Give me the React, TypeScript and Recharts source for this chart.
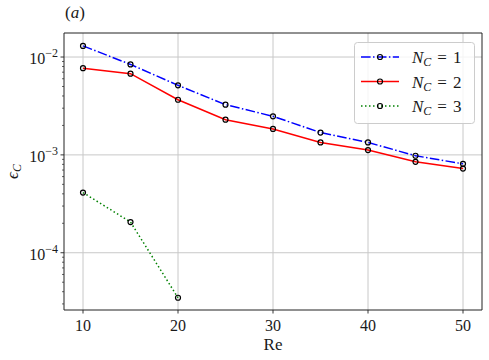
import React from 'react';
import {
  CartesianGrid,
  Legend,
  Line,
  LineChart,
  ReferenceArea,
  XAxis,
  YAxis,
} from 'recharts';

// Reynolds numbers along the x axis.
const reValues = [10, 15, 20, 25, 30, 35, 40, 45, 50];

// epsilon_C per number of components.
const nc1 = [1.3e-2, 8.4e-3, 5.14e-3, 3.26e-3, 2.48e-3, 1.69e-3, 1.34e-3, 9.8e-4, 8.1e-4];
const nc2 = [7.7e-3, 6.76e-3, 3.66e-3, 2.29e-3, 1.84e-3, 1.34e-3, 1.12e-3, 8.5e-4, 7.25e-4];
const nc3 = [4.12e-4, 2.06e-4, 3.47e-5];

const xTicks = [10, 20, 30, 40, 50];
const yMajorTicks = [1e-4, 1e-3, 1e-2];
const yMajorLabels = ['−4', '−3', '−2'];
const yMinorTicks = [
  3e-5, 4e-5, 5e-5, 6e-5, 7e-5, 8e-5, 9e-5,
  2e-4, 3e-4, 4e-4, 5e-4, 6e-4, 7e-4, 8e-4, 9e-4,
  2e-3, 3e-3, 4e-3, 5e-3, 6e-3, 7e-3, 8e-3, 9e-3,
];
const legendLabels = ['1', '2', '3'];

const X_DOMAIN: [number, number] = [8, 52];
const Y_DOMAIN: [number, number] = [2.6e-5, 1.76e-2];

const FONT = 'Liberation Serif';
const GRID = '#c8c8c8';
const SPINE = '#222';
const TEXT = '#1a1a1a';

const SERIES = [
  { key: 'nc1', color: '#0000ff', dash: '9.6 2.4 1.5 2.4' },
  { key: 'nc2', color: '#ff0000', dash: undefined },
  { key: 'nc3', color: '#008000', dash: '1.5 2.5' },
];

const data = reValues.map((re, i) => ({
  re,
  nc1: nc1[i],
  nc2: nc2[i],
  nc3: i < nc3.length ? nc3[i] : null,
}));

function XTick(props: any) {
  const { x, y, payload } = props;
  return (
    <g>
      <line x1={x} x2={x} y1={y} y2={y + 3.5} stroke={SPINE} strokeWidth={0.9} />
      <text x={x} y={y + 20.5} textAnchor="middle" style={{ fontFamily: FONT, fontSize: 16 }} fill={TEXT}>
        {payload.value}
      </text>
    </g>
  );
}

function YTick(props: any) {
  const { x, y, payload } = props;
  const idx = yMajorTicks.indexOf(payload.value);
  const major = idx >= 0;
  return (
    <g>
      <line
        x1={x - (major ? 3.5 : 2)}
        x2={x}
        y1={y}
        y2={y}
        stroke={SPINE}
        strokeWidth={major ? 0.9 : 0.7}
      />
      {major && (
        <text x={x - 6} y={y + 7} textAnchor="end" style={{ fontFamily: FONT, fontSize: 16 }} fill={TEXT}>
          10
          <tspan dy={-7} style={{ fontSize: 12 }}>
            {yMajorLabels[idx]}
          </tspan>
        </text>
      )}
    </g>
  );
}

function OpenDot(props: any) {
  const { cx, cy } = props;
  if (cx == null || cy == null || Number.isNaN(cy)) return null;
  return <circle cx={cx} cy={cy} r={2.5} fill="none" stroke="#000" strokeWidth={1.2} />;
}

function LegendBox() {
  const rows = [15, 39.5, 64];
  return (
    <svg width={121} height={82} style={{ display: 'block', overflow: 'visible' }}>
      <rect
        x={0.5}
        y={0.5}
        width={120}
        height={81}
        rx={3}
        fill="rgba(255,255,255,0.8)"
        stroke="#cccccc"
        strokeWidth={1}
      />
      {SERIES.map((s, i) => (
        <g key={s.key}>
          <line
            x1={7}
            x2={45}
            y1={rows[i]}
            y2={rows[i]}
            stroke={s.color}
            strokeWidth={1.5}
            strokeDasharray={s.dash}
          />
          <circle cx={26} cy={rows[i]} r={2.5} fill="none" stroke="#000" strokeWidth={1.2} />
          <text x={58} y={rows[i] + 6} style={{ fontFamily: FONT, fontSize: 17 }} fill={TEXT}>
            <tspan fontStyle="italic">N</tspan>
            <tspan fontStyle="italic" style={{ fontSize: 12 }} dy={3}>
              C
            </tspan>
            <tspan dy={-3} dx={6}>
              =
            </tspan>
            <tspan dx={6}>{legendLabels[i]}</tspan>
          </text>
        </g>
      ))}
    </svg>
  );
}

export default function App() {
  return (
    <div
      style={{
        position: 'fixed',
        left: 0,
        top: 0,
        width: 489,
        height: 360,
        background: '#fff',
        fontFamily: FONT,
      }}
    >
      <div
        style={{
          position: 'absolute',
          left: 65,
          top: 3,
          fontSize: 17,
          fontFamily: FONT,
          color: TEXT,
        }}
      >
        (<i>a</i>)
      </div>
      <LineChart width={489} height={360} data={data} margin={{ top: 33, right: 7, bottom: 0, left: 0 }}>
        <CartesianGrid
          stroke={GRID}
          strokeWidth={1}
          horizontalValues={yMajorTicks}
          verticalValues={xTicks}
        />
        <XAxis
          dataKey="re"
          type="number"
          domain={X_DOMAIN}
          allowDataOverflow
          ticks={xTicks}
          interval={0}
          tick={<XTick />}
          tickLine={false}
          axisLine={false}
          tickSize={0}
          tickMargin={0}
          height={50}
          label={{
            content: (p: any) => {
              const vb = p.viewBox;
              return (
                <text
                  x={vb.x + vb.width / 2}
                  y={vb.y + 40}
                  textAnchor="middle"
                  style={{ fontFamily: FONT, fontSize: 17 }}
                  fill={TEXT}
                >
                  Re
                </text>
              );
            },
          }}
        />
        <YAxis
          type="number"
          scale="log"
          domain={Y_DOMAIN}
          allowDataOverflow
          ticks={[...yMinorTicks, ...yMajorTicks]}
          interval={0}
          tick={<YTick />}
          tickLine={false}
          axisLine={false}
          tickSize={0}
          tickMargin={0}
          width={64}
          label={{
            content: (p: any) => {
              const vb = p.viewBox;
              const cx = 18;
              const cy = vb.y + vb.height / 2;
              return (
                <text
                  x={cx}
                  y={cy}
                  transform={`rotate(-90 ${cx} ${cy})`}
                  textAnchor="middle"
                  style={{ fontFamily: FONT, fontSize: 17 }}
                  fill={TEXT}
                >
                  <tspan fontStyle="italic">ϵ</tspan>
                  <tspan fontStyle="italic" style={{ fontSize: 12 }} dy={3}>
                    C
                  </tspan>
                </text>
              );
            },
          }}
        />
        <ReferenceArea
          x1={X_DOMAIN[0]}
          x2={X_DOMAIN[1]}
          y1={Y_DOMAIN[0]}
          y2={Y_DOMAIN[1]}
          ifOverflow="visible"
          fill="none"
          stroke={SPINE}
          strokeWidth={1}
        />
        {SERIES.map((s) => (
          <Line
            key={s.key}
            dataKey={s.key}
            type="linear"
            stroke={s.color}
            strokeWidth={1.5}
            strokeDasharray={s.dash}
            dot={<OpenDot />}
            activeDot={false}
            isAnimationActive={false}
          />
        ))}
        <Legend
          layout="horizontal"
          verticalAlign="middle"
          align="center"
          content={() => <LegendBox />}
          wrapperStyle={{ left: 354, top: 42, width: 121, height: 82 }}
        />
      </LineChart>
    </div>
  );
}
